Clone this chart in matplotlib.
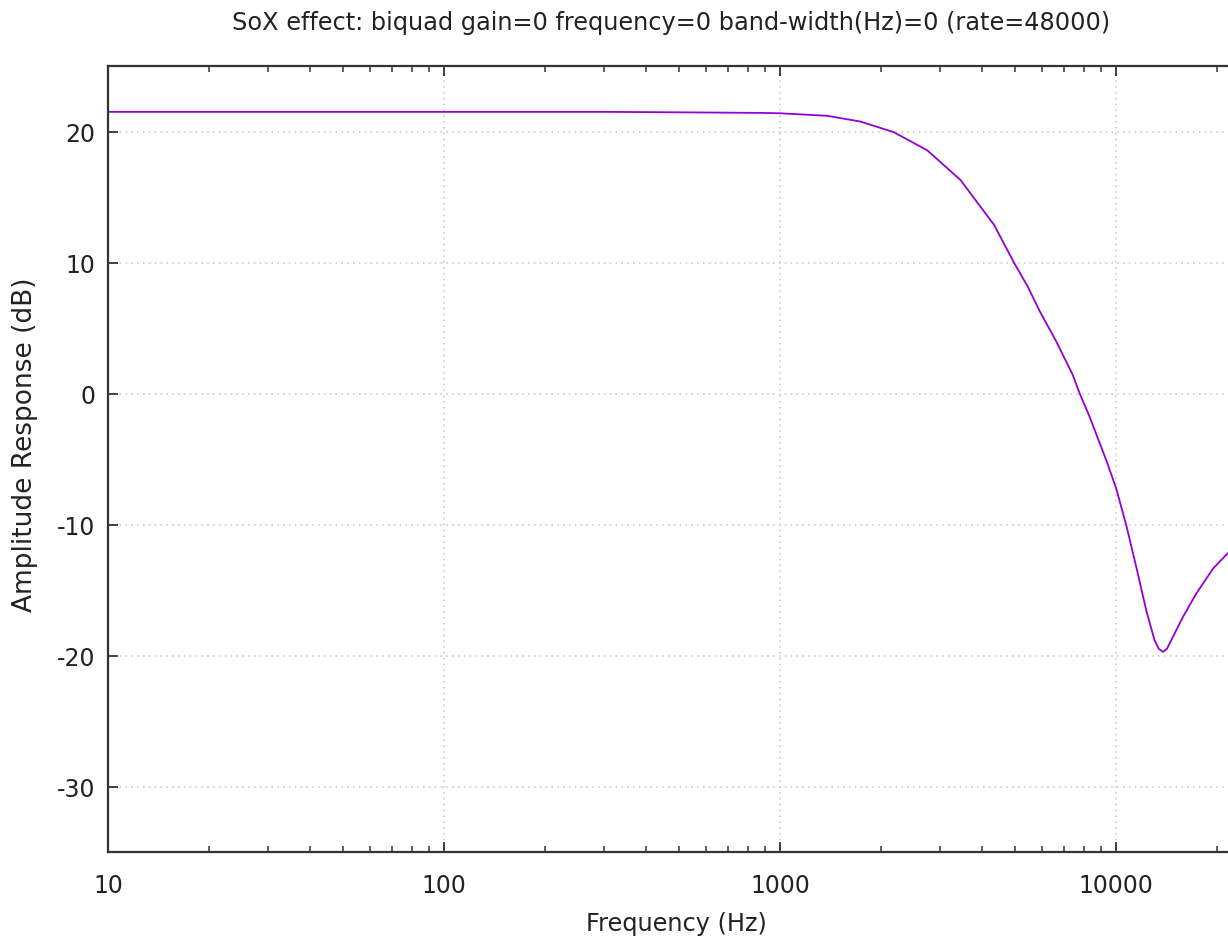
import numpy as np
import matplotlib
matplotlib.use("Agg")
import matplotlib.pyplot as plt
from matplotlib.ticker import LogLocator, FixedLocator, NullFormatter

plt.rcParams["axes.unicode_minus"] = False

# response curve (Hz, dB)
freq_hz = [10, 100, 300, 600, 871, 1000, 1378, 1733, 2178, 2741, 3445, 4333,
           4973, 5449, 5916, 6623, 7430, 7785, 8336, 9339, 10000, 10710,
           11470, 12280, 13000, 13400, 13770, 14150, 14580, 15800, 17310,
           19420, 21440]
gain_db = [21.5, 21.5, 21.5, 21.45, 21.42, 21.39, 21.2, 20.76, 19.95, 18.56,
           16.28, 12.86, 9.95, 8.18, 6.3, 4.0, 1.4, 0.0, -1.78, -5.09, -7.25,
           -10.05, -13.23, -16.54, -18.83, -19.5, -19.72, -19.5, -18.83,
           -17.05, -15.27, -13.36, -12.21]

y_ticks = [-30, -20, -10, 0, 10, 20]
x_ticks = [10, 100, 1000, 10000]
x_tick_labels = ["10", "100", "1000", "10000"]

title = "SoX effect: biquad gain=0 frequency=0 band-width(Hz)=0 (rate=48000)"

W, H = 1228, 937
fig = plt.figure(figsize=(W / 100, H / 100), dpi=100)
# plot box: left 108px, top 67px, bottom 853px; right edge runs past the image
ax = fig.add_axes([108 / W, (H - 853) / H, 1136 / W, 786 / H])

ax.semilogx(freq_hz, gain_db, color="#9400d3", linewidth=1.3)

ax.set_xlim(10, 24000)
ax.set_ylim(-35, 25)

ax.xaxis.set_major_locator(FixedLocator(x_ticks))
ax.set_xticklabels(x_tick_labels)
ax.xaxis.set_minor_locator(LogLocator(base=10, subs=np.arange(2, 10)))
ax.xaxis.set_minor_formatter(NullFormatter())
ax.set_yticks(y_ticks)

ax.grid(True, which="major", color="#cccccc", linestyle=(0, (1, 2.5)), linewidth=1.2)

edge = "#333333"
for s in ax.spines.values():
    s.set_color(edge)
    s.set_linewidth(1.6)

ax.tick_params(which="major", direction="in", length=7.5, width=1.3, color=edge,
               top=True, right=True, labelsize=17, labelcolor="#222222")
ax.tick_params(which="minor", direction="in", length=4.5, width=1.1, color=edge,
               top=True, right=True)
ax.tick_params(axis="x", which="major", pad=15)
ax.tick_params(axis="y", which="major", pad=9)

ax.set_xlabel("Frequency (Hz)", fontsize=17.3, color="#222222", labelpad=10)
ax.set_ylabel("Amplitude Response (dB)", fontsize=19, color="#222222", labelpad=14)
ax.yaxis.label.set_y(0.52)
fig.text(671 / W, 1 - 23 / H, title, ha="center", va="center", fontsize=17.3,
         color="#222222")

fig.savefig("out.png", dpi=100)
